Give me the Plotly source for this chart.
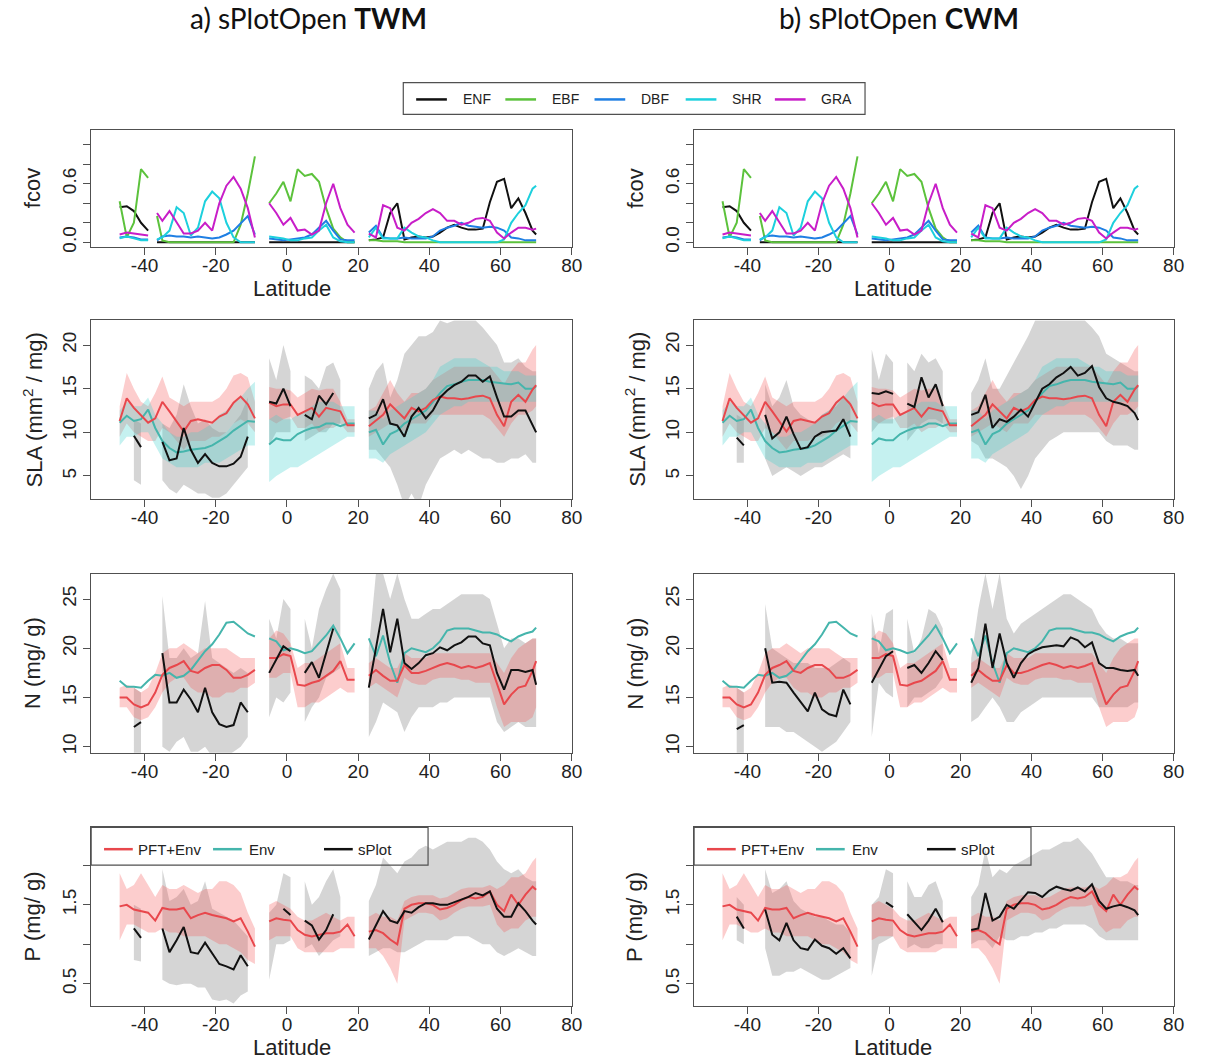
import plotly.graph_objects as go

N = None

# ---------------- latitude grids ----------------
lat = [-47, -45, -43, -41, -39, -37, -35, -33, -31, -29, -27, -25, -23, -21, -19, -17, -15, -13, -11, -9, -7,
       -5, -3, -1, 1,
       3, 5, 7, 9, 11, 13, 15,
       17, 19, 21,
       23, 25, 27, 29, 31, 33, 35, 37, 39, 41, 43, 45, 47, 49, 51, 53, 55, 57, 59, 61, 63, 65, 67, 69, 70]

lat_fcov = [-47, -45, -43, -41, -39, -38, -36.5, -35, -33, -31, -29, -27, -25, -23, -21, -19, -17, -15, -13, -11, -9, -7,
            -5, -3, -1, 1,
            3, 5, 7, 9, 11, 13, 15,
            17, 19, 21,
            23, 25, 27, 29, 31, 33, 35, 37, 39, 41, 43, 45, 47, 49, 51, 53, 55, 57, 59, 61, 63, 65, 67, 69, 70]

# ---------------- fcov (PFT cover) ----------------
fcov_enf = [0.36, 0.37, 0.32, 0.20, 0.12, N, 0, 0, 0, 0, 0, 0, 0, 0, 0, 0, 0, 0, 0, 0, 0, N,
            0, 0, 0, 0,
            0, 0, 0, 0, 0, 0, 0,
            0, 0, N,
            0.02, 0.03, 0.05, 0.30, 0.40, 0.03, 0.05, 0.06, 0.05, 0.06, 0.10, 0.15, 0.18, 0.15, 0.13, 0.13, 0.14, 0.41, 0.62, 0.65, 0.35, 0.45, 0.30, 0.12, 0.08]
fcov_ebf = [0.42, 0.05, 0.20, 0.75, 0.66, N, 0.27, 0.02, 0, 0, 0, 0, 0, 0, 0, 0, 0, 0, 0.18, 0.50, 0.88, N,
            0.40, 0.50, 0.62, 0.42,
            0.75, 0.68, 0.70, 0.62, 0.35, 0.14, 0.05,
            0, 0, N,
            0.02, 0.02, 0.01, 0.01, 0.01, 0, 0, 0, 0, 0, 0, 0, 0, 0, 0, 0, 0, 0, 0, 0, 0, 0, 0, 0, 0]
fcov_dbf = [0.05, 0.06, 0.05, 0.03, 0.03, N, 0.02, 0.06, 0.07, 0.06, 0.06, 0.05, 0.06, 0.05, 0.04, 0.05, 0.08, 0.12, 0.20, 0.27, 0.08, N,
            0.04, 0.03, 0.02, 0.03,
            0.04, 0.05, 0.08, 0.15, 0.22, 0.12, 0.03,
            0.02, 0.02, N,
            0.10, 0.17, 0.05, 0.04, 0.04, 0.05, 0.04, 0.04, 0.04, 0.06, 0.12, 0.15, 0.17, 0.20, 0.17, 0.16, 0.15, 0.16, 0.15, 0.12, 0.05, 0.04, 0.02, 0.02, 0.02]
fcov_shr = [0.04, 0.06, 0.04, 0.02, 0.02, N, 0.03, 0.05, 0.12, 0.36, 0.30, 0.07, 0.15, 0.42, 0.52, 0.45, 0.20, 0.05, 0.0, 0.0, 0.0, N,
            0.06, 0.05, 0.04, 0.02,
            0.02, 0.04, 0.05, 0.12, 0.18, 0.05, 0.01,
            0, 0, N,
            0.05, 0.15, 0.04, 0.04, 0.04, 0.15, 0.10, 0.06, 0.05, 0.02, 0, 0, 0, 0, 0, 0, 0, 0, 0, 0.03, 0.20, 0.30, 0.38, 0.55, 0.58]
fcov_gra = [0.08, 0.10, 0.09, 0.08, 0.07, N, 0.30, 0.22, 0.32, 0.20, 0.09, 0.09, 0.12, 0.20, 0.12, 0.40, 0.58, 0.67, 0.55, 0.35, 0.05, N,
            0.40, 0.30, 0.18, 0.25,
            0.12, 0.13, 0.08, 0.12, 0.40, 0.60, 0.35,
            0.18, 0.10, N,
            0.09, 0.05, 0.38, 0.35, 0.15, 0.12, 0.20, 0.24, 0.30, 0.34, 0.30, 0.22, 0.22, 0.18, 0.20, 0.24, 0.25, 0.22, 0.10, 0.04, 0.10, 0.15, 0.15, 0.13, 0.14]

# ---------------- SLA ----------------
sla_pft = [11.3, 13.9, 12.8, 12.0, 11.1, 11.6, 13.5, 12.4, 11.3, 10.1, 11.3, 11.5, 11.3, 11.1, 11.8, 12.2, 13.4, 14.1, 13.2, 11.6, N,
           13.4, 13.0, 13.2, 13.2,
           12.0, 12.4, 12.8, 11.8, 12.8, 12.6, 12.4,
           10.8, 10.8, N,
           10.7, 11.3, 12.0, 13.2, 12.4, 11.6, 12.8, 12.4, 12.8, 13.7, 14.1, 13.9, 13.9, 13.8, 13.9, 14.1, 14.2, 13.9, 12.0, 10.7, 13.5, 14.3, 13.5, 14.9, 15.4]
sla_pft_hi = [13.0, 16.8, 15.0, 13.5, 13.0, 14.5, 16.4, 14.0, 13.5, 13.0, 13.5, 13.5, 13.5, 13.5, 14.0, 15.0, 16.5, 16.8, 16.3, 13.5, N,
              15.2, 15.0, 15.0, 14.8,
              14.0, 14.5, 15.0, 14.8, 15.0, 15.0, 13.5,
              11.5, 11.5, N,
              12.5, 13.0, 14.5, 16.0, 14.5, 13.5, 14.5, 14.5, 15.0, 16.0, 16.5, 17.0, 17.5, 17.5, 17.5, 17.5, 17.5, 17.5, 16.5, 15.5, 17.0, 18.0, 18.0, 19.5, 20.0]
sla_pft_lo = [9.5, 11.0, 10.0, 9.5, 9.0, 9.0, 10.5, 10.0, 9.0, 8.0, 9.0, 9.0, 9.0, 9.5, 9.5, 10.0, 11.0, 11.5, 11.0, 10.0, N,
              11.5, 11.0, 11.5, 11.8,
              10.5, 10.5, 11.0, 10.0, 10.5, 10.5, 11.0,
              10.0, 10.0, N,
              9.5, 10.0, 10.5, 11.0, 10.5, 10.0, 11.0, 11.0, 11.0, 12.0, 12.0, 12.0, 12.0, 12.0, 12.0, 12.0, 12.0, 11.5, 10.5, 9.5, 11.0, 12.0, 12.0, 12.5, 13.0]
sla_env = [11.1, 11.9, 11.3, 11.5, 12.6, 10.5, 9.0, 8.2, 7.7, 7.8, 8.0, 8.1, 8.2, 8.5, 9.0, 9.5, 10.2, 10.8, 11.3, 11.2, N,
           8.6, 9.3, 9.1, 9.1,
           9.8, 10.2, 10.5, 10.6, 11.0, 11.0, 10.7,
           11.0, 11.0, N,
           10.0, 10.3, 8.6, 9.8, 10.2, 11.0, 11.5, 12.0, 12.5, 13.5, 14.5, 15.3, 15.5, 15.8, 16.0, 16.0, 16.0, 15.8, 15.7, 15.6, 15.5, 15.7, 15.0, 15.0, 15.3]
sla_env_hi = [12.5, 13.5, 13.0, 13.0, 14.0, 12.0, 11.0, 10.0, 9.5, 9.5, 10.0, 10.0, 10.5, 11.0, 12.0, 12.5, 13.5, 14.0, 15.0, 15.8, N,
              11.5, 12.0, 11.5, 11.5,
              12.0, 12.5, 13.0, 13.5, 13.5, 13.5, 13.0,
              13.0, 13.0, N,
              12.5, 12.5, 11.5, 12.5, 13.0, 13.5, 14.0, 14.5, 15.0, 16.0, 17.5, 18.0, 18.5, 18.5, 18.5, 18.5, 18.0, 17.5, 17.5, 17.0, 17.0, 17.0, 16.5, 16.5, 16.5]
sla_env_lo = [8.5, 9.5, 9.5, 10.0, 10.0, 8.5, 7.0, 6.5, 6.0, 6.0, 6.0, 6.0, 6.5, 6.5, 6.5, 7.0, 7.5, 8.0, 8.5, 8.5, N,
              4.3, 5.0, 5.5, 6.0,
              6.0, 6.5, 7.0, 7.5, 8.0, 8.5, 9.0,
              9.5, 9.5, N,
              7.0, 7.0, 6.5, 7.5, 8.0, 8.5, 9.0, 9.5, 10.0, 11.0, 12.0, 12.5, 13.0, 13.0, 13.5, 13.5, 13.5, 13.5, 13.5, 13.5, 13.5, 13.5, 13.5, 13.5, 13.5]
sla_twm = [N, N, 9.6, 8.3, N, N, 8.9, 6.8, 7.0, 10.5, 8.0, 6.5, 7.5, 6.5, 6.1, 6.1, 6.4, 7.2, 9.5, N, N,
           13.5, 13.3, 15.0, 13.0,
           N, 12.0, 11.5, 14.2, 13.2, 14.5, N,
           N, N, N,
           11.6, 12.0, 13.8, 11.0, 10.8, 9.5, 11.8, 12.8, 11.6, 12.5, 14.0, 14.8, 15.4, 15.8, 16.5, 16.5, 15.8, 16.4, 14.0, 11.8, 11.8, 12.5, 12.5, 10.8, 10.0]
sla_twm_hi = [N, N, 11.5, 11.0, N, N, 11.0, 10.5, 12.0, 15.5, 13.0, 11.0, 11.5, 10.5, 10.0, 10.0, 11.0, 12.0, 14.0, N, N,
              18.5, 16.0, 20.0, 17.0,
              N, 16.5, 16.0, 15.0, 17.5, 18.0, 16.0,
              N, N, N,
              15.0, 17.0, 18.0, 14.0, 16.0, 19.0, 20.0, 21.0, 21.0, 21.5, 22.8, 22.5, 22.8, 22.8, 22.8, 22.8, 22.0, 21.0, 20.0, 18.0, 18.0, 18.5, 17.5, 17.0, 17.0]
sla_twm_lo = [N, N, 4.5, 4.0, N, N, 4.5, 3.5, 3.0, 4.0, 3.5, 3.0, 3.0, 2.5, 2.5, 3.0, 4.0, 5.0, 6.0, N, N,
              8.5, 10.0, 10.0, 10.0,
              N, 9.0, 9.5, 10.0, 10.0, 11.0, 11.0,
              N, N, N,
              8.0, 8.0, 7.0, 6.0, 4.0, 1.5, 3.0, 1.5, 4.0, 5.5, 7.0, 7.5, 8.0, 7.5, 8.0, 7.5, 7.0, 7.0, 6.5, 6.5, 7.0, 7.0, 7.5, 6.5, 6.5]
sla_cwm = [N, N, 9.4, 8.5, N, N, 12.0, 9.3, 10.0, 11.8, 9.8, 8.1, 8.3, 9.5, 10.0, 10.1, 10.2, 11.5, 9.5, N, N,
           14.5, 14.4, 14.7, 14.4,
           N, 13.3, 12.9, 16.3, 14.0, 15.5, 13.0,
           N, N, N,
           12.0, 12.3, 14.3, 10.5, 11.5, 11.2, 11.8, 12.6, 11.8, 13.5, 15.0, 15.5, 16.3, 16.8, 17.5, 16.5, 16.8, 17.6, 15.2, 13.9, 13.5, 13.3, 13.0, 12.2, 11.4]
sla_cwm_hi = [N, N, 12.0, 11.5, N, N, 15.5, 13.0, 14.0, 16.0, 13.0, 12.0, 11.5, 11.0, 12.0, 12.5, 13.0, 14.0, 13.5, N, N,
              19.5, 16.0, 19.0, 18.0,
              N, 18.0, 17.0, 19.0, 18.0, 18.5, 17.0,
              N, N, N,
              14.5, 16.0, 18.5, 15.0, 15.0, 16.5, 18.0, 19.5, 21.0, 22.8, 22.8, 22.8, 22.8, 22.8, 22.8, 22.8, 22.8, 22.0, 21.0, 19.0, 18.5, 18.0, 17.5, 17.0, 17.0]
sla_cwm_lo = [N, N, 6.5, 6.5, N, N, 7.0, 5.0, 5.5, 6.0, 5.5, 5.0, 5.5, 6.0, 6.0, 6.5, 7.0, 7.5, 7.0, N, N,
              10.0, 11.0, 11.0, 11.0,
              N, 9.0, 10.0, 11.0, 11.5, 11.5, 11.0,
              N, N, N,
              9.0, 8.5, 7.0, 7.0, 6.5, 6.0, 5.0, 3.5, 5.0, 7.0, 8.0, 9.0, 9.5, 10.0, 10.0, 10.0, 10.0, 10.0, 10.0, 9.0, 8.5, 8.5, 8.5, 8.0, 8.0]

# ---------------- N ----------------
n_pft = [15.0, 15.0, 14.3, 14.0, 14.3, 15.5, 17.3, 18.0, 18.3, 18.7, 17.7, 17.5, 18.0, 18.3, 18.3, 17.8, 17.0, 17.0, 17.3, 17.8, N,
         19.0, 19.0, 19.4, 19.2,
         16.3, 16.2, 16.5, 16.7, 17.2, 17.7, 18.7,
         16.8, 16.8, N,
         17.2, 17.8, 17.2, 16.7, 16.7, 18.3, 17.5, 17.5, 17.7, 18.0, 18.3, 18.5, 18.3, 18.0, 18.2, 18.0, 18.2, 18.5, 16.3, 14.3, 15.3, 16.0, 16.2, 17.7, 18.7]
n_pft_hi = [16.0, 16.3, 16.0, 15.5, 16.0, 17.5, 19.5, 20.0, 20.0, 20.5, 20.0, 19.5, 20.0, 20.0, 20.0, 20.0, 19.5, 19.0, 19.0, 19.0, N,
            21.0, 21.8, 21.5, 20.5,
            18.0, 18.5, 18.5, 19.0, 19.5, 20.0, 20.5,
            18.0, 18.0, N,
            18.5, 19.0, 18.5, 18.0, 18.0, 19.5, 19.0, 19.0, 19.0, 19.5, 19.5, 19.5, 19.5, 19.5, 19.5, 19.5, 19.5, 19.5, 18.5, 17.5, 19.0, 20.0, 20.5, 21.0, 21.0]
n_pft_lo = [14.0, 14.0, 13.0, 12.7, 13.0, 14.0, 15.5, 16.5, 17.0, 17.0, 16.0, 15.5, 15.5, 15.0, 15.0, 15.5, 15.5, 16.0, 16.0, 16.5, N,
            17.0, 17.0, 17.5, 17.5,
            14.0, 14.0, 14.5, 14.5, 15.0, 15.5, 16.0,
            15.5, 15.5, N,
            16.0, 16.5, 16.0, 15.5, 15.0, 17.0, 16.5, 16.3, 16.3, 16.8, 17.0, 17.0, 17.0, 16.8, 16.8, 16.5, 16.5, 16.5, 14.0, 12.0, 12.5, 12.5, 12.5, 13.0, 14.0]
n_env = [16.7, 16.1, 16.1, 16.0, 16.7, 17.3, 17.2, 17.5, 17.0, 17.2, 17.8, 18.7, 19.7, 20.4, 21.4, 22.6, 22.7, 22.1, 21.5, 21.2, N,
         21.0, 20.7, 19.8, 20.0,
         19.8, 19.5, 19.7, 20.5, 21.3, 22.3, 21.0,
         19.5, 20.5, N,
         21.0, 19.2, 21.3, 18.5, 16.5, 19.5, 20.0, 19.8, 19.6, 20.0, 20.7, 21.8, 22.0, 22.0, 22.0, 21.8, 21.6, 21.6, 21.4, 21.0, 20.7, 21.2, 21.5, 21.7, 22.1]
n_twm = [N, N, 12.0, 12.5, N, N, 19.5, 14.5, 14.5, 15.8, 14.8, 13.5, 16.0, 13.5, 12.3, 12.0, 12.2, 14.5, 13.5, N, N,
         17.5, 18.8, 20.2, 19.7,
         N, 17.5, 18.6, 17.0, 19.5, 22.0, N,
         N, N, N,
         16.0, 20.0, 24.0, 19.6, 23.0, 18.5, 17.9, 18.5, 19.3, 19.5, 20.1, 19.8, 20.3, 20.6, 21.2, 21.2, 20.5, 20.3, 17.5, 15.8, 17.8, 17.8, 17.6, 17.8, 16.3]
n_twm_hi = [N, N, 16.0, 15.5, N, N, 25.3, 19.0, 19.0, 20.0, 19.0, 19.5, 24.8, 19.0, 18.5, 18.0, 17.5, 18.0, 17.5, N, N,
            23.0, 21.0, 25.0, 24.0,
            N, 23.0, 20.0, 24.0, 26.0, 27.6, 26.0,
            N, N, N,
            20.0, 27.6, 27.6, 25.0, 27.6, 25.0, 23.0, 23.0, 23.5, 24.0, 24.0, 24.5, 25.0, 25.5, 25.5, 25.5, 25.5, 25.0, 22.5, 20.0, 21.0, 21.0, 20.5, 21.0, 21.0]
n_twm_lo = [N, N, 9.0, 9.0, N, N, 10.0, 9.5, 10.5, 11.0, 9.5, 9.5, 10.0, 9.0, 9.0, 9.0, 9.5, 10.0, 11.0, N, N,
            13.0, 15.0, 14.5, 15.5,
            N, 12.5, 14.0, 15.0, 17.0, 17.5, 18.0,
            N, N, N,
            11.0, 12.5, 14.5, 14.0, 13.5, 11.5, 13.0, 14.0, 14.0, 14.0, 14.5, 14.5, 15.0, 15.0, 15.0, 15.0, 15.0, 15.0, 12.5, 11.5, 12.0, 12.5, 12.0, 12.0, 12.0]
n_cwm = [N, N, 11.8, 12.2, N, N, 20.0, 16.5, 16.6, 16.5, 15.5, 14.5, 13.6, 15.5, 13.8, 13.3, 13.1, 15.8, 14.3, N, N,
         16.5, 17.8, 19.2, 19.7,
         N, 18.0, 18.3, 17.5, 18.5, 19.7, 18.8,
         N, N, N,
         16.5, 18.0, 22.5, 18.0, 21.5, 18.5, 17.0, 18.5, 19.4, 19.8, 20.1, 20.2, 20.3, 20.2, 21.1, 20.8, 20.1, 20.6, 18.5, 18.0, 18.0, 17.8, 17.7, 17.8, 17.2]
n_cwm_hi = [N, N, 16.0, 15.5, N, N, 24.5, 20.0, 19.5, 19.0, 18.5, 18.5, 18.5, 18.0, 18.0, 18.0, 18.5, 19.0, 18.5, N, N,
            23.5, 19.5, 23.5, 24.0,
            N, 23.0, 19.5, 21.0, 24.0, 23.5, 22.0,
            N, N, N,
            19.0, 24.0, 27.6, 24.0, 27.6, 23.0, 21.5, 22.5, 23.0, 23.5, 24.0, 24.5, 25.0, 25.5, 25.5, 25.0, 24.5, 24.0, 22.5, 21.5, 21.0, 21.0, 20.5, 20.5, 20.5]
n_cwm_lo = [N, N, 9.0, 9.0, N, N, 12.0, 12.0, 12.0, 11.5, 11.5, 11.0, 10.5, 10.0, 9.5, 10.0, 10.5, 11.5, 12.5, N, N,
            11.0, 16.5, 15.5, 15.0,
            N, 14.0, 15.0, 15.0, 15.5, 16.0, 17.0,
            N, N, N,
            12.5, 13.0, 14.0, 15.0, 14.0, 12.5, 12.5, 13.5, 14.0, 14.5, 15.0, 15.0, 15.0, 15.0, 15.0, 15.0, 15.0, 15.0, 14.0, 14.0, 14.0, 14.0, 14.0, 14.5, 14.5]

# ---------------- P ----------------
p_pft = [1.48, 1.50, 1.44, 1.42, 1.40, 1.30, 1.46, 1.44, 1.44, 1.46, 1.33, 1.37, 1.40, 1.37, 1.35, 1.33, 1.29, 1.33, 1.16, 0.97, N,
         1.29, 1.33, 1.31, 1.30,
         1.18, 1.12, 1.10, 1.12, 1.14, 1.14, 1.16,
         1.25, 1.10, N,
         1.16, 1.18, 1.14, 1.06, 1.00, 1.45, 1.50, 1.52, 1.52, 1.50, 1.44, 1.46, 1.50, 1.56, 1.60, 1.58, 1.60, 1.67, 1.50, 1.42, 1.63, 1.50, 1.63, 1.73, 1.69]
p_pft_hi = [1.90, 1.70, 1.75, 1.90, 1.75, 1.60, 1.75, 1.70, 1.70, 1.75, 1.70, 1.65, 1.70, 1.70, 1.80, 1.80, 1.75, 1.65, 1.40, 1.20, N,
            1.50, 1.55, 1.50, 1.45,
            1.35, 1.30, 1.30, 1.35, 1.40, 1.35, 1.30,
            1.35, 1.35, N,
            1.35, 1.40, 1.35, 1.35, 1.30, 1.55, 1.60, 1.62, 1.62, 1.62, 1.58, 1.60, 1.65, 1.70, 1.72, 1.72, 1.72, 1.75, 1.70, 1.75, 1.85, 1.85, 1.90, 2.05, 2.10]
p_pft_lo = [1.05, 1.25, 1.25, 1.20, 1.15, 1.15, 1.20, 1.15, 1.15, 1.10, 1.10, 1.10, 1.10, 1.05, 1.00, 1.00, 0.95, 0.90, 0.80, 0.75, N,
            1.05, 1.10, 1.10, 1.10,
            0.95, 0.90, 0.90, 0.90, 0.90, 0.90, 0.95,
            0.95, 0.95, N,
            0.95, 0.95, 0.85, 0.70, 0.50, 1.30, 1.35, 1.40, 1.40, 1.38, 1.30, 1.33, 1.40, 1.45, 1.48, 1.48, 1.48, 1.50, 1.25, 1.15, 1.20, 1.20, 1.30, 1.35, 1.35]
p_twm = [N, N, 1.20, 1.08, N, N, 1.20, 0.90, 1.05, 1.22, 0.90, 0.88, 1.02, 0.88, 0.75, 0.72, 0.68, 0.86, 0.72, N, N,
         N, N, 1.45, 1.37,
         N, 1.30, 1.24, 1.06, 1.18, 1.38, N,
         N, N, N,
         1.06, 1.25, 1.42, 1.30, 1.27, 1.42, 1.40, 1.47, 1.52, 1.52, 1.50, 1.50, 1.53, 1.56, 1.60, 1.65, 1.62, 1.67, 1.45, 1.35, 1.35, 1.52, 1.42, 1.30, 1.25]
p_twm_hi = [N, N, 1.50, 1.45, N, N, 1.95, 1.55, 1.60, 1.70, 1.50, 1.55, 1.80, 1.45, 1.40, 1.35, 1.30, 1.20, 1.10, N, N,
            1.40, 1.50, 1.90, 1.85,
            N, 1.80, 1.50, 1.60, 1.80, 1.95, 1.60,
            N, N, N,
            1.55, 1.75, 2.10, 2.00, 1.90, 2.05, 2.10, 2.20, 2.25, 2.20, 2.25, 2.30, 2.30, 2.30, 2.35, 2.35, 2.30, 2.20, 2.05, 1.95, 1.90, 1.95, 1.85, 1.80, 1.80]
p_twm_lo = [N, N, 0.80, 0.78, N, N, 0.55, 0.50, 0.48, 0.50, 0.50, 0.45, 0.45, 0.30, 0.28, 0.30, 0.25, 0.35, 0.40, N, N,
            0.55, 1.00, 1.00, 1.05,
            N, 0.95, 1.00, 0.85, 0.95, 1.05, 1.10,
            N, N, N,
            0.85, 0.90, 0.95, 0.95, 0.90, 0.90, 0.95, 1.00, 1.05, 1.05, 1.05, 1.05, 1.10, 1.10, 1.10, 1.05, 1.00, 1.00, 0.90, 0.85, 0.90, 0.95, 0.90, 0.85, 0.85]
p_cwm = [N, N, 1.35, 1.20, N, N, 1.44, 1.12, 1.05, 1.27, 1.05, 0.95, 0.93, 1.06, 0.98, 0.95, 0.88, 0.95, 0.82, N, N,
         N, N, 1.53, 1.47,
         N, 1.38, 1.28, 1.18, 1.30, 1.45, 1.28,
         N, N, N,
         1.18, 1.20, 1.65, 1.30, 1.35, 1.50, 1.45, 1.55, 1.66, 1.65, 1.60, 1.68, 1.73, 1.70, 1.68, 1.72, 1.67, 1.76, 1.55, 1.45, 1.48, 1.50, 1.47, 1.43, 1.37]
p_cwm_hi = [N, N, 1.60, 1.50, N, N, 1.95, 1.65, 1.70, 1.80, 1.55, 1.45, 1.40, 1.35, 1.35, 1.30, 1.25, 1.25, 1.15, N, N,
            1.50, 1.60, 1.95, 1.90,
            N, 1.80, 1.60, 1.60, 1.75, 1.80, 1.55,
            N, N, N,
            1.60, 1.75, 2.20, 1.85, 1.95, 1.90, 2.00, 2.05, 2.10, 2.15, 2.20, 2.20, 2.25, 2.30, 2.30, 2.35, 2.25, 2.15, 2.00, 1.85, 1.85, 1.80, 1.80, 1.75, 1.75]
p_cwm_lo = [N, N, 1.05, 1.00, N, N, 0.95, 0.60, 0.60, 0.65, 0.65, 0.70, 0.65, 0.60, 0.55, 0.55, 0.60, 0.65, 0.70, N, N,
            0.60, 1.00, 1.05, 1.10,
            N, 0.95, 1.00, 0.95, 0.95, 1.00, 1.00,
            N, N, N,
            1.00, 1.05, 1.05, 0.95, 1.10, 1.05, 1.05, 1.10, 1.10, 1.15, 1.15, 1.20, 1.20, 1.25, 1.25, 1.25, 1.25, 1.20, 1.10, 1.05, 1.05, 1.05, 1.05, 1.05, 1.05]

# ---------------- labels ----------------
titles = ["a) sPlotOpen <b>TWM</b>", "b) sPlotOpen <b>CWM</b>"]
pft_names = ["ENF", "EBF", "DBF", "SHR", "GRA"]
pft_colors = ["#111111", "#5cc23c", "#1f7fe3", "#1dd0dd", "#c81ec8"]
model_names = ["PFT+Env", "Env", "sPlot"]
x_ticks = [-40, -20, 0, 20, 40, 60, 80]

# ---------------- styling / geometry ----------------
W, H = 1205, 1064
FONT = "Liberation Sans, Arial, sans-serif"
RED, TEAL, BLACK = "#e8474c", "#45b5ac", "#111111"
RED_FILL = "rgba(245,90,90,0.30)"
TEAL_FILL = "rgba(64,210,205,0.30)"
GRAY_FILL = "rgba(150,150,150,0.40)"


def fx(px):
    return px / W


def fy(py):
    return 1 - py / H


col_px = {"L": (92, 577), "R": (700.5, 1184.5)}
row_px = {"fcov": (131, 248), "SLA": (322, 502), "N": (577, 757), "P": (832, 1012)}
yranges = {"fcov": [-0.044, 1.148], "SLA": [2.34, 22.85], "N": [9.39, 27.57], "P": [0.213, 2.483]}
yticks = {"fcov": ([0, 0.2, 0.4, 0.6, 0.8, 1.0], ["0.0", "", "", "0.6", "", ""]),
          "SLA": ([5, 10, 15, 20], ["5", "10", "15", "20"]),
          "N": ([10, 15, 20, 25], ["10", "15", "20", "25"]),
          "P": ([0.5, 1.0, 1.5, 2.0], ["0.5", "", "1.5", ""])}
ytitles = {"fcov": "fcov", "SLA": "SLA (mm<sup>2</sup> / mg)", "N": "N (mg/ g)", "P": "P (mg/ g)"}

panels = [("L", "fcov"), ("R", "fcov"), ("L", "SLA"), ("R", "SLA"),
          ("L", "N"), ("R", "N"), ("L", "P"), ("R", "P")]

fig = go.Figure()


def refs(k):
    return ("x", "y") if k == 1 else (f"x{k}", f"y{k}")


def runs(n, *series):
    out, cur = [], []
    for i in range(n):
        if all(s[i] is not None for s in series):
            cur.append(i)
        else:
            if cur:
                out.append(cur)
            cur = []
    if cur:
        out.append(cur)
    return out


def add_band(k, xs, lo, hi, color):
    xr, yr = refs(k)
    px, py = [], []
    for r in runs(len(xs), lo, hi):
        if len(r) < 2:
            continue
        px += [xs[i] for i in r] + [xs[i] for i in reversed(r)] + [None]
        py += [hi[i] for i in r] + [lo[i] for i in reversed(r)] + [None]
    fig.add_trace(go.Scatter(x=px, y=py, mode="lines", fill="toself", fillcolor=color,
                             line=dict(width=0), hoverinfo="skip", showlegend=False,
                             xaxis=xr, yaxis=yr))


def add_line(k, xs, ys, color, width=2.0):
    xr, yr = refs(k)
    fig.add_trace(go.Scatter(x=xs, y=ys, mode="lines", line=dict(color=color, width=width),
                             connectgaps=False, hoverinfo="skip", showlegend=False,
                             xaxis=xr, yaxis=yr))


fcov_series = [fcov_enf, fcov_ebf, fcov_dbf, fcov_shr, fcov_gra]
data = {
    "SLA": (sla_pft, sla_pft_lo, sla_pft_hi, sla_env, sla_env_lo, sla_env_hi,
            {"L": (sla_twm, sla_twm_lo, sla_twm_hi), "R": (sla_cwm, sla_cwm_lo, sla_cwm_hi)}),
    "N": (n_pft, n_pft_lo, n_pft_hi, n_env, None, None,
          {"L": (n_twm, n_twm_lo, n_twm_hi), "R": (n_cwm, n_cwm_lo, n_cwm_hi)}),
    "P": (p_pft, p_pft_lo, p_pft_hi, None, None, None,
          {"L": (p_twm, p_twm_lo, p_twm_hi), "R": (p_cwm, p_cwm_lo, p_cwm_hi)}),
}

for k, (col, row) in enumerate(panels, start=1):
    if row == "fcov":
        for s, c in zip(fcov_series, pft_colors):
            add_line(k, lat_fcov, s, c, 2.0)
        continue
    pft, pft_lo, pft_hi, env, env_lo, env_hi, obs = data[row]
    o, o_lo, o_hi = obs[col]
    add_band(k, lat, o_lo, o_hi, GRAY_FILL)
    add_band(k, lat, pft_lo, pft_hi, RED_FILL)
    if env_lo is not None:
        add_band(k, lat, env_lo, env_hi, TEAL_FILL)
    if env is not None:
        add_line(k, lat, env, TEAL)
    add_line(k, lat, pft, RED)
    add_line(k, lat, o, BLACK)

layout = dict(width=W, height=H, margin=dict(l=0, r=0, t=0, b=0),
              paper_bgcolor="white", plot_bgcolor="white", showlegend=False,
              font=dict(family=FONT, color="#222"))
for k, (col, row) in enumerate(panels, start=1):
    sfx = "" if k == 1 else str(k)
    x0, x1 = col_px[col]
    top, bot = row_px[row]
    axis_common = dict(showline=True, mirror=True, linecolor="#505050", linewidth=1.2,
                       ticks="outside", ticklen=7, tickwidth=1.1, tickcolor="#505050",
                       showgrid=False, zeroline=False, fixedrange=True,
                       tickfont=dict(family=FONT, size=19, color="#222"))
    layout["xaxis" + sfx] = dict(domain=[fx(x0), fx(x1)], anchor="y" + sfx, range=[-55, 80],
                                 tickvals=x_ticks, ticktext=[str(v) for v in x_ticks],
                                 ticklabelstandoff=-6, **axis_common)
    tv, tt = yticks[row]
    layout["yaxis" + sfx] = dict(domain=[fy(bot), fy(top)], anchor="x" + sfx, range=yranges[row],
                                 tickvals=tv, ticktext=tt, tickangle=-90, ticklabelstandoff=-1,
                                 **axis_common)
fig.update_layout(**layout)

ann = []
shapes = []
# titles
for txt, cx in zip(titles, [311, 907]):
    ann.append(dict(x=fx(cx), y=fy(18), xref="paper", yref="paper", text=txt, showarrow=False,
                    xanchor="center", yanchor="middle",
                    font=dict(family="Lato, Open Sans, sans-serif", size=28, color="#111")))
# y-axis titles
for col, tx in [("L", 33), ("R", 641)]:
    for row in ["fcov", "SLA", "N", "P"]:
        top, bot = row_px[row]
        ann.append(dict(x=fx(tx), y=fy((top + bot) / 2), xref="paper", yref="paper",
                        text=ytitles[row], showarrow=False, textangle=-90,
                        xanchor="center", yanchor="middle",
                        font=dict(family=FONT, size=22, color="#222")))
# x-axis titles
for cx in [295, 901]:
    for cy in [290, 1053]:
        ann.append(dict(x=fx(cx), y=fy(cy), xref="paper", yref="paper", text="Latitude",
                        showarrow=False, xanchor="center", yanchor="middle",
                        font=dict(family=FONT, size=22, color="#222")))

# top PFT legend
shapes.append(dict(type="rect", xref="paper", yref="paper", x0=fx(407), x1=fx(873),
                   y0=fy(115), y1=fy(83), line=dict(color="#505050", width=1.2)))
leg_x = [420, 510, 600, 692, 782]
for name, c, lx in zip(pft_names, pft_colors, leg_x):
    shapes.append(dict(type="line", xref="paper", yref="paper", x0=fx(lx), x1=fx(lx + 31),
                       y0=fy(100), y1=fy(100), line=dict(color=c, width=2.5)))
    ann.append(dict(x=fx(lx + 45), y=fy(100), xref="paper", yref="paper", text=name,
                    showarrow=False, xanchor="left", yanchor="middle",
                    font=dict(family=FONT, size=14, color="#222")))

# model legend inside P panels
for col in ["L", "R"]:
    bx = col_px[col][0]
    top = row_px["P"][0]
    shapes.append(dict(type="rect", xref="paper", yref="paper", x0=fx(bx), x1=fx(bx + 340),
                       y0=fy(top + 38), y1=fy(top), line=dict(color="#505050", width=1.2),
                       layer="above"))
    for name, c, off, toff in zip(model_names, [RED, TEAL, BLACK], [13, 123, 235], [45, 157, 267]):
        shapes.append(dict(type="line", xref="paper", yref="paper", x0=fx(bx + off), x1=fx(bx + off + 29),
                           y0=fy(top + 22), y1=fy(top + 22), line=dict(color=c, width=2.5)))
        ann.append(dict(x=fx(bx + toff), y=fy(top + 22), xref="paper", yref="paper", text=name,
                        showarrow=False, xanchor="left", yanchor="middle",
                        font=dict(family=FONT, size=15, color="#222")))

fig.update_layout(annotations=ann, shapes=shapes)
fig.write_html("out.html")
